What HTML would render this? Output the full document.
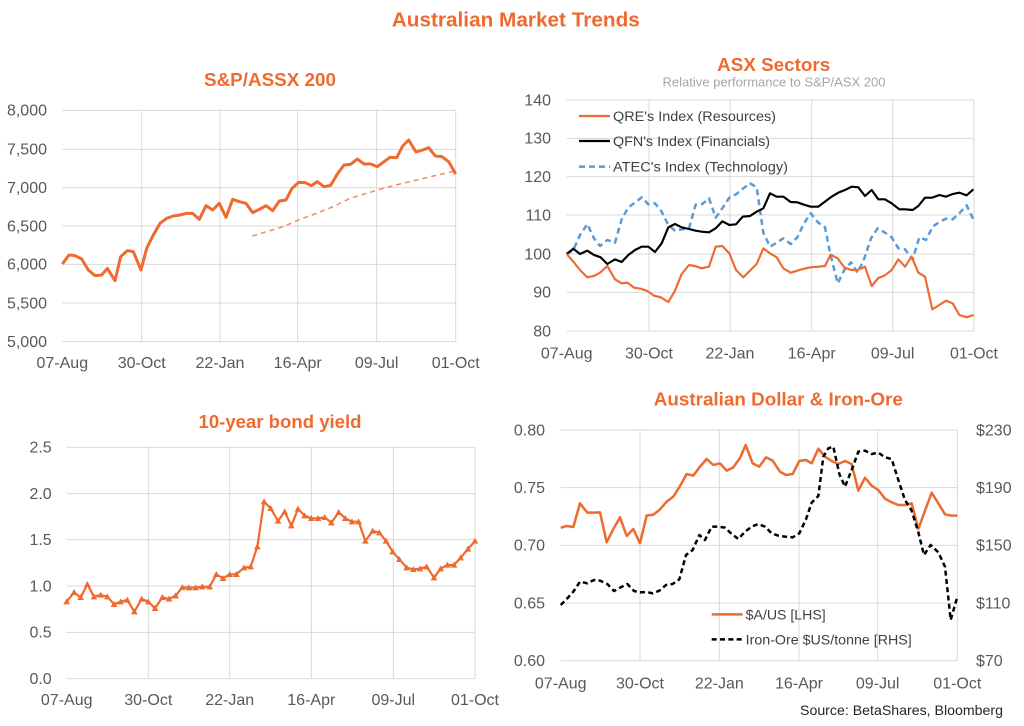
<!DOCTYPE html>
<html><head><meta charset="utf-8">
<style>
html,body{margin:0;padding:0;background:#fff;}
svg{display:block;}
text{font-family:"Liberation Sans",Arial,sans-serif;}
.ax{font-size:16px;fill:#595959;}
.ttl{font-size:18px;font-weight:bold;fill:#EE6A2F;}
.lg{font-size:13.5px;fill:#404040;}
.g{stroke:#D9D9D9;stroke-width:3;fill:none;}
</style></head>
<body>
<svg width="1024" height="726" viewBox="0 0 1024 726" xmlns="http://www.w3.org/2000/svg">
<defs>
<marker id="tri" markerUnits="userSpaceOnUse" markerWidth="24" markerHeight="24" refX="12" refY="13" viewBox="0 0 24 24">
<path d="M12 3 L22 21 L2 21 Z" fill="#EE6A2F"/>
</marker>
</defs>
<rect width="1024" height="726" fill="#fff"/>

<text x="515.8" y="26.5" text-anchor="middle" font-size="20" font-weight="bold" fill="#EE6A2F" textLength="248" lengthAdjust="spacingAndGlyphs">Australian Market Trends</text>

<!-- ===== Top-left S&P/ASX 200 ===== -->
<text class="ttl" x="270" y="86" text-anchor="middle" textLength="132" lengthAdjust="spacingAndGlyphs">S&amp;P/ASSX 200</text>
<g transform="translate(0,60) scale(0.333333)">
<path class="g" d="M187 151H1367M187 268H1367M187 383H1367M187 498H1367M187 613H1367M187 729H1367M187 845H1367M425 151V845M660 151V845M893 151V845M1130 151V845M1367 151V845"/>
<polyline fill="none" stroke="#F28A5E" stroke-width="4.5" stroke-dasharray="15,12" points="757,528 850,500 900,478 950,460 1000,440 1050,415 1100,400 1150,385 1200,372 1250,360 1300,348 1367,333"/>
<polyline fill="none" stroke="#EE6A2F" stroke-width="9" stroke-linejoin="round" points="187,612 207,585 225,587 245,597 265,630 285,647 305,645 322,625 345,662 362,590 382,572 400,575 423,630 440,565 460,525 480,490 500,475 520,468 540,465 560,460 578,460 598,478 618,437 638,450 658,430 678,472 698,418 718,425 738,430 758,458 778,448 798,437 818,452 838,423 858,420 876,385 896,367 916,368 934,377 952,365 972,380 992,376 1012,342 1032,315 1052,313 1072,297 1092,312 1112,312 1132,320 1152,305 1170,292 1190,293 1208,258 1226,240 1248,276 1268,270 1286,263 1306,288 1326,290 1346,305 1367,342"/>
</g>
<g class="ax" text-anchor="end">
<text x="47" y="115.6">8,000</text>
<text x="47" y="154.6">7,500</text>
<text x="47" y="193">7,000</text>
<text x="47" y="231.3">6,500</text>
<text x="47" y="269.6">6,000</text>
<text x="47" y="308.3">5,500</text>
<text x="47" y="347">5,000</text>
</g>
<g class="ax" text-anchor="middle">
<text x="62.3" y="368">07-Aug</text>
<text x="141.7" y="368">30-Oct</text>
<text x="220" y="368">22-Jan</text>
<text x="297.7" y="368">16-Apr</text>
<text x="376.7" y="368">09-Jul</text>
<text x="455.7" y="368">01-Oct</text>
</g>

<!-- ===== Top-right ASX Sectors ===== -->
<text class="ttl" x="773.7" y="71" text-anchor="middle" textLength="113" lengthAdjust="spacingAndGlyphs">ASX Sectors</text>
<text x="774" y="86.5" text-anchor="middle" font-size="13" fill="#A6A6A6" textLength="223" lengthAdjust="spacingAndGlyphs">Relative performance to S&amp;P/ASX 200</text>
<g transform="translate(500,50) scale(0.333333)">
<path class="g" d="M200 150H1422M200 265H1422M200 380H1422M200 495H1422M200 612H1422M200 727H1422M200 843H1422M447 150V843M690 150V843M935 150V843M1178 150V843M1422 150V843"/>
<polyline fill="none" stroke="#5B9BD5" stroke-width="7.5" stroke-dasharray="18,12" stroke-linejoin="round" points="200,612 220,600 240,555 262,522 282,565 300,588 322,570 345,578 365,508 385,472 405,458 425,442 445,463 465,460 485,485 505,525 525,542 545,538 567,535 587,464 607,462 627,445 647,503 667,475 688,443 708,433 730,415 750,400 770,412 790,548 810,590 830,578 850,565 872,582 892,562 912,520 932,490 955,518 975,532 990,608 1013,700 1033,660 1053,637 1073,668 1093,625 1113,565 1133,535 1155,548 1175,562 1195,595 1215,598 1238,628 1258,562 1278,570 1298,530 1318,516 1338,506 1358,508 1378,490 1400,466 1420,508"/>
<polyline fill="none" stroke="#000" stroke-width="6.5" stroke-linejoin="round" points="200,612 220,596 240,612 262,602 282,615 302,622 322,642 345,628 365,636 385,615 405,600 425,590 445,590 465,606 485,580 505,532 525,522 545,532 567,537 587,542 605,545 627,547 647,535 667,514 688,525 708,523 728,500 750,498 770,485 790,475 810,430 830,440 850,440 872,456 892,457 912,464 932,470 955,470 975,455 995,440 1015,428 1035,420 1055,410 1075,412 1095,438 1115,420 1135,448 1155,448 1175,460 1198,478 1215,478 1238,480 1255,468 1275,443 1297,443 1318,435 1338,440 1358,432 1378,428 1400,436 1420,418"/>
<polyline fill="none" stroke="#EE6A2F" stroke-width="6.5" stroke-linejoin="round" points="200,612 220,635 240,660 262,682 282,678 300,668 322,648 345,688 365,700 382,698 402,713 422,716 442,723 462,737 482,742 505,756 525,722 545,672 567,645 585,648 605,655 627,650 647,590 667,588 688,610 708,660 730,682 750,662 770,642 790,595 810,610 830,622 850,655 872,668 892,662 912,656 932,652 955,650 975,648 992,614 1013,625 1033,652 1053,660 1073,660 1095,650 1115,708 1135,684 1155,676 1175,660 1195,628 1215,650 1235,620 1255,668 1275,680 1297,778 1318,765 1338,752 1358,760 1378,795 1400,802 1420,795"/>
<line x1="237" y1="198" x2="330" y2="198" stroke="#EE6A2F" stroke-width="7"/>
<line x1="237" y1="273" x2="330" y2="273" stroke="#000" stroke-width="7"/>
<line x1="237" y1="350" x2="330" y2="350" stroke="#5B9BD5" stroke-width="7.5" stroke-dasharray="18,12"/>
</g>
<g class="lg">
<text x="613" y="121" textLength="163" lengthAdjust="spacingAndGlyphs">QRE's Index (Resources)</text>
<text x="613" y="146" textLength="157" lengthAdjust="spacingAndGlyphs">QFN's Index (Financials)</text>
<text x="613" y="171.5" textLength="175" lengthAdjust="spacingAndGlyphs">ATEC's Index (Technology)</text>
</g>
<g class="ax" text-anchor="end">
<text x="551" y="105.3">140</text>
<text x="551" y="143.6">130</text>
<text x="551" y="182">120</text>
<text x="551" y="220.3">110</text>
<text x="551" y="259.3">100</text>
<text x="551" y="297.6">90</text>
<text x="551" y="336.3">80</text>
</g>
<g class="ax" text-anchor="middle">
<text x="566.7" y="358.3">07-Aug</text>
<text x="649" y="358.3">30-Oct</text>
<text x="730" y="358.3">22-Jan</text>
<text x="811.7" y="358.3">16-Apr</text>
<text x="892.7" y="358.3">09-Jul</text>
<text x="974" y="358.3">01-Oct</text>
</g>

<!-- ===== Bottom-left 10-year bond yield ===== -->
<text class="ttl" x="280" y="428" text-anchor="middle" textLength="163" lengthAdjust="spacingAndGlyphs">10-year bond yield</text>
<g transform="translate(0,395) scale(0.333333)">
<path class="g" d="M200 157H1425M200 296H1425M200 434H1425M200 573H1425M200 712H1425M200 851H1425M445 157V851M689 157V851M934 157V851M1180 157V851M1425 157V851"/>
<polyline fill="none" stroke="#EE6A2F" stroke-width="6.6" stroke-linejoin="round" marker-start="url(#tri)" marker-mid="url(#tri)" marker-end="url(#tri)" points="200,620 222,592 242,607 262,568 282,605 302,600 322,605 342,628 362,620 382,615 403,650 425,612 445,620 465,640 487,607 507,612 527,602 547,577 567,578 587,578 607,575 629,575 649,538 669,550 689,538 709,538 732,518 752,515 772,455 792,320 812,340 834,378 854,350 874,392 894,342 914,362 934,370 954,370 974,367 994,383 1016,352 1036,370 1056,380 1076,380 1096,438 1118,408 1138,413 1158,438 1178,470 1198,493 1220,518 1240,523 1260,521 1280,515 1302,548 1322,521 1342,510 1362,510 1382,488 1404,462 1425,438"/>
</g>
<g class="ax" text-anchor="end">
<text x="51.7" y="452.6">2.5</text>
<text x="51.7" y="499">2.0</text>
<text x="51.7" y="545">1.5</text>
<text x="51.7" y="591.3">1.0</text>
<text x="51.7" y="637.6">0.5</text>
<text x="51.7" y="684">0.0</text>
</g>
<g class="ax" text-anchor="middle">
<text x="66.7" y="705">07-Aug</text>
<text x="148.3" y="705">30-Oct</text>
<text x="229.7" y="705">22-Jan</text>
<text x="311.3" y="705">16-Apr</text>
<text x="393.3" y="705">09-Jul</text>
<text x="475" y="705">01-Oct</text>
</g>

<!-- ===== Bottom-right AUD & Iron Ore ===== -->
<text class="ttl" x="778.3" y="405.3" text-anchor="middle" textLength="249" lengthAdjust="spacingAndGlyphs">Australian Dollar &amp; Iron-Ore</text>
<g transform="translate(500,380) scale(0.333333)">
<path class="g" d="M182 150H1372M182 323H1372M182 496H1372M182 669H1372M182 842H1372M420 150V842M658 150V842M897 150V842M1133 150V842M1372 150V842"/>
<polyline fill="none" stroke="#EE6A2F" stroke-width="7.5" stroke-linejoin="round" points="182,443 200,438 220,441 240,370 262,398 282,398 300,397 320,487 340,447 360,412 380,468 400,447 420,490 440,407 460,404 478,390 500,365 520,350 540,318 560,282 580,287 600,260 620,237 640,255 660,250 680,272 700,262 720,234 737,195 758,250 778,260 798,232 818,242 840,275 858,285 878,282 898,243 918,240 935,250 955,206 975,230 995,243 1015,252 1035,243 1055,252 1075,332 1095,293 1115,317 1135,330 1155,356 1175,367 1195,375 1215,375 1235,370 1255,447 1275,392 1295,338 1315,370 1335,403 1355,407 1372,407"/>
<polyline fill="none" stroke="#000" stroke-width="7.5" stroke-dasharray="15,10" stroke-linejoin="round" points="182,675 200,657 220,635 240,605 262,610 282,600 300,602 322,612 342,633 362,622 382,612 402,633 420,637 440,636 458,640 478,632 498,615 518,612 538,598 558,525 578,510 598,465 615,480 635,440 655,440 675,443 695,462 715,477 735,455 755,440 775,432 795,440 815,460 835,467 855,470 878,472 898,460 918,418 935,368 955,348 970,230 985,205 1000,200 1018,282 1035,320 1055,270 1075,215 1095,212 1115,222 1135,218 1155,232 1175,237 1195,300 1215,360 1235,392 1255,457 1272,525 1292,495 1315,517 1335,560 1352,720 1372,650"/>
<line x1="635" y1="703" x2="728" y2="703" stroke="#EE6A2F" stroke-width="7.5"/>
<line x1="635" y1="778" x2="725" y2="778" stroke="#000" stroke-width="7.5" stroke-dasharray="15,10"/>
</g>
<g class="lg" font-size="14">
<text x="745.7" y="619.3" style="font-size:14px" textLength="80" lengthAdjust="spacingAndGlyphs">$A/US [LHS]</text>
<text x="745.7" y="644.3" style="font-size:14px" textLength="166" lengthAdjust="spacingAndGlyphs">Iron-Ore $US/tonne [RHS]</text>
</g>
<g class="ax" text-anchor="end">
<text x="545" y="435.3">0.80</text>
<text x="545" y="493">0.75</text>
<text x="545" y="550.6">0.70</text>
<text x="545" y="608.3">0.65</text>
<text x="545" y="666">0.60</text>
</g>
<g class="ax" text-anchor="start">
<text x="976" y="435.3">$230</text>
<text x="976" y="493">$190</text>
<text x="976" y="550.6">$150</text>
<text x="976" y="608.3">$110</text>
<text x="976" y="666">$70</text>
</g>
<g class="ax" text-anchor="middle">
<text x="560.7" y="688.3">07-Aug</text>
<text x="640" y="688.3">30-Oct</text>
<text x="719.3" y="688.3">22-Jan</text>
<text x="799" y="688.3">16-Apr</text>
<text x="877.7" y="688.3">09-Jul</text>
<text x="957.3" y="688.3">01-Oct</text>
</g>
<text x="800" y="715" font-size="14" fill="#262626" textLength="203" lengthAdjust="spacingAndGlyphs">Source: BetaShares, Bloomberg</text>
</svg>
</body></html>
